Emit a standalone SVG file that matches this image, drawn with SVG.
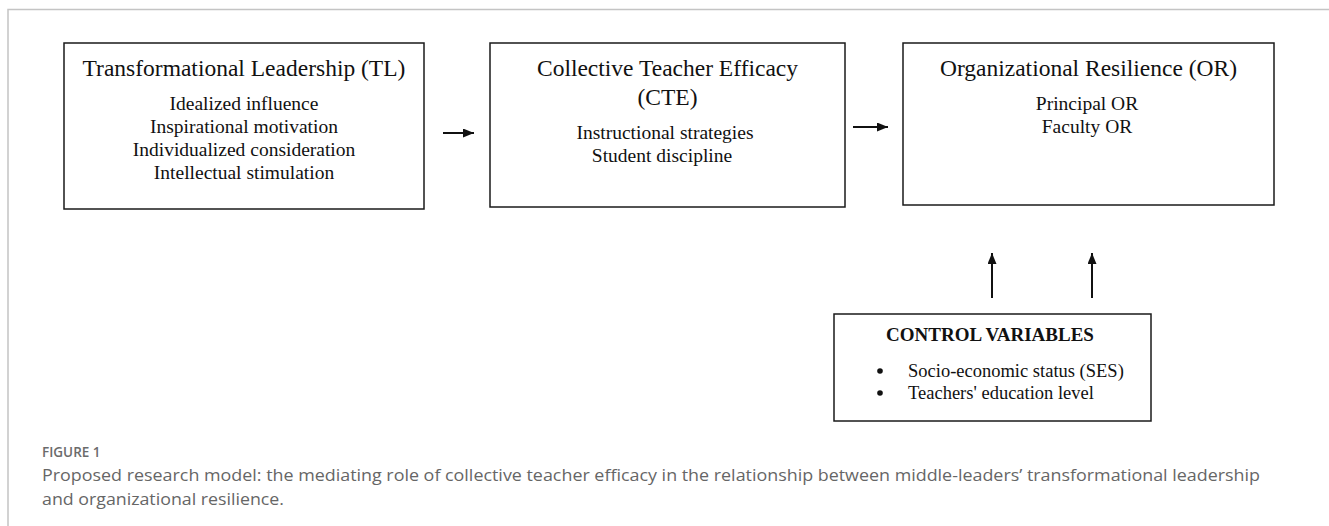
<svg xmlns="http://www.w3.org/2000/svg" width="1329" height="526" viewBox="0 0 1329 526">
  <style>
    .box { fill: #ffffff; stroke: #1a1a1a; stroke-width: 1.5; }
    .title { font-family: "Liberation Serif", "Times New Roman", serif; font-size: 23.5px; fill: #111; text-anchor: middle; }
    .item { font-family: "Liberation Serif", "Times New Roman", serif; font-size: 19.5px; fill: #111; text-anchor: middle; }
    .ctl-head { font-family: "Liberation Serif", "Times New Roman", serif; font-size: 19px; font-weight: bold; fill: #111; text-anchor: middle; }
    .ctl-item { font-family: "Liberation Serif", "Times New Roman", serif; font-size: 18.5px; fill: #111; }
    .link { stroke: #111; stroke-width: 2; fill: none; marker-end: url(#head); }
    .frame { stroke: #c4c4c4; stroke-width: 1.5; fill: none; }
    .fig-label { font-family: "Open Sans", "Noto Sans", sans-serif; font-size: 13.5px; font-weight: 600; fill: #6b6b6b; }
    .caption { font-family: "Open Sans", "Noto Sans", sans-serif; font-size: 16px; fill: #666; }
  </style>
  <defs>
    <marker id="head" viewBox="0 0 11 9" refX="11" refY="4.5" markerWidth="11" markerHeight="9" markerUnits="userSpaceOnUse" orient="auto">
      <path d="M0,0 L11,4.5 L0,9 Z" fill="#111"/>
    </marker>
  </defs>

  <rect width="1329" height="526" fill="#ffffff"/>
  <!-- figure frame: top and left rules -->
  <path class="frame" d="M8,526 V9.5 H1329"/>

  <g id="node-tl">
    <rect class="box" x="64" y="43" width="360" height="166"/>
    <text class="title" x="244" y="76">Transformational Leadership (TL)</text>
    <text class="item" x="244" y="110">Idealized influence</text>
    <text class="item" x="244" y="133">Inspirational motivation</text>
    <text class="item" x="244" y="156">Individualized consideration</text>
    <text class="item" x="244" y="179">Intellectual stimulation</text>
  </g>

  <g id="node-cte">
    <rect class="box" x="490" y="43" width="355" height="164"/>
    <text class="title" x="667.5" y="76">Collective Teacher Efficacy</text>
    <text class="title" x="667.5" y="105">(CTE)</text>
    <text class="item" x="665" y="139">Instructional strategies</text>
    <text class="item" x="662" y="162">Student discipline</text>
  </g>

  <g id="node-or">
    <rect class="box" x="903" y="43" width="371" height="162"/>
    <text class="title" x="1088.5" y="76">Organizational Resilience (OR)</text>
    <text class="item" x="1087" y="110">Principal OR</text>
    <text class="item" x="1087" y="133">Faculty OR</text>
  </g>

  <g id="node-control">
    <rect class="box" x="834" y="314" width="317" height="107"/>
    <text class="ctl-head" x="990" y="341">CONTROL VARIABLES</text>
    <circle cx="880" cy="371" r="2.8" fill="#111"/>
    <circle cx="880" cy="393" r="2.8" fill="#111"/>
    <text class="ctl-item" x="908" y="377">Socio-economic status (SES)</text>
    <text class="ctl-item" x="908" y="399">Teachers' education level</text>
  </g>

  <g id="connectors">
    <line class="link" x1="443" y1="133" x2="474" y2="133"/>
    <line class="link" x1="853" y1="127" x2="888" y2="127"/>
    <line class="link" x1="992" y1="298" x2="992" y2="253"/>
    <line class="link" x1="1092" y1="298" x2="1092" y2="253"/>
  </g>

  <g id="caption">
    <text class="fig-label" x="42" y="457">FIGURE 1</text>
    <text class="caption" x="42" y="481" textLength="1218" lengthAdjust="spacingAndGlyphs">Proposed research model: the mediating role of collective teacher efficacy in the relationship between middle-leaders’ transformational leadership</text>
    <text class="caption" x="42" y="505" textLength="242" lengthAdjust="spacingAndGlyphs">and organizational resilience.</text>
  </g>
</svg>
